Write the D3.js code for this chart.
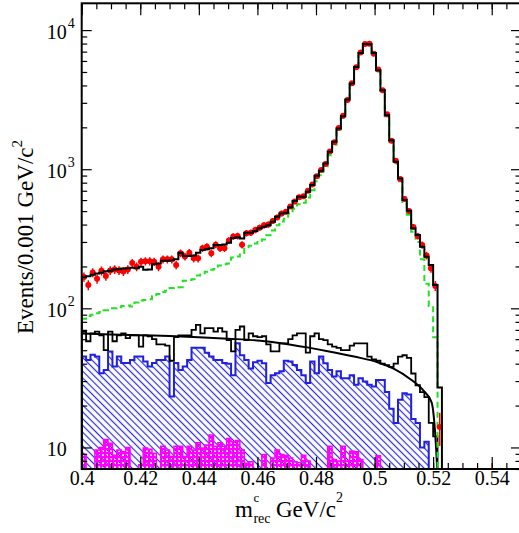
<!DOCTYPE html>
<html>
<head>
<meta charset="utf-8">
<script src="https://cdn.jsdelivr.net/npm/d3@7/dist/d3.min.js"></script>
<style>
  body { margin: 0; background: #fff; }
  svg { display: block; }
  text { font-family: 'Liberation Serif', 'Times New Roman', Times, serif; }
</style>
</head>
<body>
<div id="chart"></div>
<script>
// binning of the histograms (0.0015 wide bins starting at 0.4)
const xMin = 0.4, xMax = 0.55, binW = 0.0015
const yMin = 7, yMax = 15580

// fitted total (black histogram)
const total = [
  167, 170, 174, 178, 180, 185, 186, 190, 191, 193,
  194, 196, 194, 199, 189, 190, 207, 210, 220, 220,
  222, 225, 251, 238, 238, 240, 251, 263, 266, 270,
  285, 285, 288, 296, 320, 324, 318, 350, 350, 359,
  376, 386, 395, 419, 456, 481, 486, 532, 590, 634,
  634, 688, 769, 897, 974, 1101, 1333, 1573, 1963, 2405,
  3170, 4129, 5436, 6852, 7953, 7900, 6852, 5144, 3697, 2445,
  1618, 1130, 859, 600, 503, 376, 336, 277, 235, 205,
  147, 27
]
// data points (red)
const data = [
  168, 147, 181, 163, 186, 171, 187, 190, 187, 184,
  190, 212, 199, 216, 218, 218, 216, 199, 225, 225,
  225, 205, 249, 236, 251, 229, 229, 270, 277, 249,
  287, 270, 270, 307, 328, 331, 286, 347, 350, 366,
  380, 395, 400, 425, 450, 480, 495, 540, 585, 630,
  640, 700, 775, 890, 985, 1090, 1340, 1560, 1980, 2420,
  3150, 4150, 5400, 6900, 7950, 7980, 6750, 5200, 3700, 2480,
  1600, 1150, 850, 610, 500, 385, 330, 285, 240, 194,
  145, 14
]
// signal shape (green dashed)
const signal = [
  84, 88, 90, 92, 94, 97, 100, 100, 102, 104,
  105, 103, 110, 114, 115, 116, 122, 127, 131, 134,
  140, 141, 142, 158, 160, 162, 172, 175, 183, 189,
  192, 203, 207, 210, 232, 236, 250, 275, 282, 292,
  305, 312, 335, 362, 395, 420, 440, 480, 520, 560,
  575, 625, 705, 820, 905, 1030, 1260, 1500, 1890, 2330,
  3090, 4050, 5350, 6780, 7880, 7850, 6790, 5090, 3650, 2400,
  1580, 1095, 820, 565, 470, 355, 300, 225, 150, 104,
  62, 0
]
// background MC (black open histogram)
const bkgHist = [
  68, 58, 66, 68, 64, 50, 68, 58, 64, 66,
  61, 64, 64, 53, 64, 63, 60, 55, 55, 54,
  42, 62, 64, 64, 64, 70, 76, 66, 72, 72,
  68, 72, 68, 59, 49, 70, 74, 59, 66, 63,
  62, 63, 55, 49, 49, 56, 56, 60, 64, 66,
  66, 48, 63, 66, 60, 59, 55, 53, 52, 50,
  50, 54, 56, 56, 56, 45, 43, 42, 40, 39,
  38, 40, 45, 46, 44, 34, 28, 25, 23, 15,
  12, 0
]
// blue hatched component
const blueHist = [
  45, 42.6, 46.3, 45, 34.2, 36.1, 48.9, 38.2, 45, 40.4,
  40.4, 42.6, 45, 45, 41.5, 38.2, 40.4, 42.6, 42.6, 45,
  23.2, 40.4, 36.1, 38.2, 42.6, 52, 52, 52, 48, 45,
  42.6, 42.6, 40.4, 40, 33, 56, 46, 42.6, 37, 41,
  42, 40.3, 29, 33, 34.2, 35.3, 42, 41.5, 39.2, 36.1,
  33, 29, 41.5, 34.2, 45, 40.3, 36.1, 32.4, 35.3, 31.5,
  31.5, 33, 28.2, 31.5, 29.8, 28.2, 27.4, 30.6, 30.6, 25,
  19, 15, 22, 24.5, 24, 16, 15, 10, 11, 6,
  0, 0
]
// magenta cross-hatched component
const magentaHist = [
  8.9, 0, 0, 9.6, 10.0, 11.4, 10.7, 8.8, 9.6, 9.3,
  10.0, 0, 0, 7.5, 9.9, 9.7, 9.1, 0, 10.2, 9.6,
  8.6, 10.2, 10.2, 8.6, 10.2, 9.6, 10.8, 9.9, 10.4, 12.3,
  10.2, 10.8, 10.2, 11.6, 11.0, 11.2, 9.6, 7.7, 7.9, 0,
  0, 8.9, 0, 8.4, 9.6, 8.9, 8.8, 8.4, 7.9, 7.8,
  8.8, 8.0, 0, 0, 0, 0, 10.2, 8.2, 8.0, 10.2,
  8.0, 9.4, 9.3, 8.2, 0, 0, 0, 8.7, 0, 0,
  0, 0, 0, 0, 0, 0, 0, 0, 0, 0,
  0, 0
]
// smooth background function (black curve)
const bkgCurveX = [0.400, 0.410, 0.420, 0.430, 0.440, 0.450, 0.461, 0.468, 0.477, 0.484,
  0.493, 0.501, 0.5065, 0.512, 0.5167, 0.5195, 0.5206, 0.5214]
const bkgCurveY = [66, 64.8, 64, 63.2, 62, 60.5, 58.5, 56.2, 52.4, 49.2,
  45, 41, 36.8, 31.2, 25.6, 21, 13.4, 7]

const xTickValues = [0.40, 0.42, 0.44, 0.46, 0.48, 0.50, 0.52, 0.54]
const xTickLabels = ['0.4', '0.42', '0.44', '0.46', '0.48', '0.5', '0.52', '0.54']
const yTickValues = [10, 100, 1000, 10000]
const yTickExps = ['', '2', '3', '4']

const W = 519, H = 533
const plot = { left: 81.7, right: 521, top: 3.3, bottom: 469 }
const serif = "'Liberation Serif', 'Times New Roman', Times, serif"

const x = d3.scaleLinear().domain([xMin, xMax]).range([plot.left, plot.right])
const y = d3.scaleLog().domain([yMin, yMax]).range([plot.bottom, plot.top]).clamp(true)

const svg = d3.select('#chart').append('svg')
  .attr('width', W).attr('height', H)
  .attr('font-family', serif)
svg.append('rect').attr('width', W).attr('height', H).attr('fill', '#fff')

const defs = svg.append('defs')
defs.append('clipPath').attr('id', 'plotClip')
  .append('rect')
  .attr('x', plot.left).attr('y', plot.top)
  .attr('width', plot.right - plot.left).attr('height', plot.bottom - plot.top)

const hatch = defs.append('pattern').attr('id', 'hatchBlue')
  .attr('patternUnits', 'userSpaceOnUse')
  .attr('width', 4.8).attr('height', 4.8)
  .attr('patternTransform', 'rotate(-45)')
hatch.append('line')
  .attr('x1', 2.4).attr('y1', 0).attr('x2', 2.4).attr('y2', 4.8)
  .attr('stroke', '#2b2bdc').attr('stroke-width', 1.2)

const cross = defs.append('pattern').attr('id', 'crossMag')
  .attr('patternUnits', 'userSpaceOnUse')
  .attr('width', 4).attr('height', 4)
cross.append('rect').attr('width', 4).attr('height', 2.2).attr('fill', '#ff00ff')
cross.append('rect').attr('width', 2.2).attr('height', 4).attr('fill', '#ff00ff')

const edge = (i) => x(xMin + i * binW)
const yv = (v) => y(Math.max(v, yMin))
const histPoints = (vals) => {
  const pts = [[edge(0), plot.bottom]]
  vals.forEach((v, i) => {
    pts.push([edge(i), yv(v)])
    pts.push([edge(i + 1), yv(v)])
  })
  pts.push([edge(vals.length), plot.bottom])
  return pts
}
const line = d3.line()

const g = svg.append('g').attr('clip-path', 'url(#plotClip)')

// filled components
g.append('path').attr('d', line(histPoints(blueHist)) + 'Z')
  .attr('fill', 'url(#hatchBlue)').attr('stroke', 'none')
g.append('path').attr('d', line(histPoints(magentaHist)) + 'Z')
  .attr('fill', 'url(#crossMag)').attr('stroke', 'none')
g.append('path').attr('d', line(histPoints(blueHist)))
  .attr('fill', 'none').attr('stroke', '#2020e0').attr('stroke-width', 2)
g.append('path').attr('d', line(histPoints(magentaHist)))
  .attr('fill', 'none').attr('stroke', '#ff00ff').attr('stroke-width', 1.5)

// background MC histogram and fitted function
g.append('path').attr('d', line(histPoints(bkgHist)))
  .attr('fill', 'none').attr('stroke', '#000').attr('stroke-width', 1.8)
const curveLine = d3.line()
  .x((d, i) => x(bkgCurveX[i]))
  .y((d) => y(d))
  .curve(d3.curveMonotoneX)
g.append('path').attr('d', curveLine(bkgCurveY))
  .attr('fill', 'none').attr('stroke', '#000').attr('stroke-width', 2)

// signal
g.append('path').attr('d', line(histPoints(signal)))
  .attr('fill', 'none').attr('stroke', '#22e022').attr('stroke-width', 2)
  .attr('stroke-dasharray', '6,4')

// data with errors
const centre = (i) => x(xMin + (i + 0.5) * binW)
const pts = g.append('g')
data.forEach((v, i) => {
  const err = Math.sqrt(v)
  pts.append('line')
    .attr('x1', centre(i)).attr('x2', centre(i))
    .attr('y1', yv(v - err)).attr('y2', yv(v + err))
    .attr('stroke', '#ff0000').attr('stroke-width', 1.5)
  pts.append('circle')
    .attr('cx', centre(i)).attr('cy', y(v)).attr('r', 3)
    .attr('fill', '#ff0000')
})

// total
g.append('path').attr('d', line(histPoints(total)))
  .attr('fill', 'none').attr('stroke', '#000').attr('stroke-width', 2)

// axes
const styleAxis = (sel) => {
  sel.attr('font-family', serif)
  sel.select('.domain').remove()
  sel.selectAll('.tick line').attr('stroke', '#000').attr('stroke-width', 1.2)
}
svg.append('g').attr('transform', `translate(0,${plot.bottom})`)
  .call(d3.axisBottom(x).tickValues(x.ticks(30)).tickSize(-6).tickFormat(''))
  .call(styleAxis)
svg.append('g').attr('transform', `translate(0,${plot.bottom})`)
  .call(d3.axisBottom(x).tickValues(xTickValues).tickSize(-12).tickPadding(2)
    .tickFormat((d, i) => xTickLabels[i]))
  .call(styleAxis)
  .selectAll('text').attr('font-size', 20).attr('fill', '#000')
svg.append('g').attr('transform', `translate(0,${plot.top})`)
  .call(d3.axisTop(x).tickValues(x.ticks(30)).tickSize(-6).tickFormat(''))
  .call(styleAxis)
svg.append('g').attr('transform', `translate(0,${plot.top})`)
  .call(d3.axisTop(x).tickValues(xTickValues).tickSize(-12).tickFormat(''))
  .call(styleAxis)

const yMinor = y.ticks().filter((d) => !yTickValues.includes(d))
svg.append('g').attr('transform', `translate(${plot.left},0)`)
  .call(d3.axisLeft(y).tickValues(yMinor).tickSize(-5.5).tickFormat(''))
  .call(styleAxis)
svg.append('g').attr('transform', `translate(${plot.left},0)`)
  .call(d3.axisLeft(y).tickValues(yTickValues).tickSize(-10).tickFormat(''))
  .call(styleAxis)
svg.append('g').attr('transform', `translate(${plot.right},0)`)
  .call(d3.axisRight(y).tickValues(yMinor).tickSize(-5.5).tickFormat(''))
  .call(styleAxis)
svg.append('g').attr('transform', `translate(${plot.right},0)`)
  .call(d3.axisRight(y).tickValues(yTickValues).tickSize(-10).tickFormat(''))
  .call(styleAxis)

svg.append('rect')
  .attr('x', plot.left).attr('y', plot.top)
  .attr('width', plot.right - plot.left).attr('height', plot.bottom - plot.top)
  .attr('fill', 'none').attr('stroke', '#000').attr('stroke-width', 2)

// y tick labels: 10, 10^2, 10^3, 10^4
yTickValues.forEach((v, i) => {
  const t = svg.append('text')
    .attr('x', 46.7).attr('y', y(v) + 8.5)
    .attr('font-size', 20).text('10')
  if (yTickExps[i]) {
    t.append('tspan').attr('dx', 1).attr('dy', -10.5)
      .attr('font-size', 14).text(yTickExps[i])
  }
})

// axis titles
const yt = svg.append('text')
  .attr('transform', 'translate(33,237) rotate(-90)')
  .attr('text-anchor', 'middle').attr('font-size', 23)
yt.append('tspan').text('Events/0.001 GeV/c')
yt.append('tspan').attr('dy', -11).attr('font-size', 15).text('2')

const x0 = 235
const mText = svg.append('text').attr('x', x0).attr('y', 517).attr('font-size', 23).text('m')
const mw = mText.node().getComputedTextLength()
svg.append('text').attr('x', x0 + mw + 0.5).attr('y', 502).attr('font-size', 13).text('c')
const sub = svg.append('text').attr('x', x0 + mw + 0.5).attr('y', 523).attr('font-size', 14).text('rec')
const sw = sub.node().getComputedTextLength()
const rest = svg.append('text').attr('x', x0 + mw + sw + 6).attr('y', 517).attr('font-size', 23)
rest.append('tspan').text('GeV/c')
rest.append('tspan').attr('dy', -15).attr('font-size', 14).text('2')
</script>
</body>
</html>
